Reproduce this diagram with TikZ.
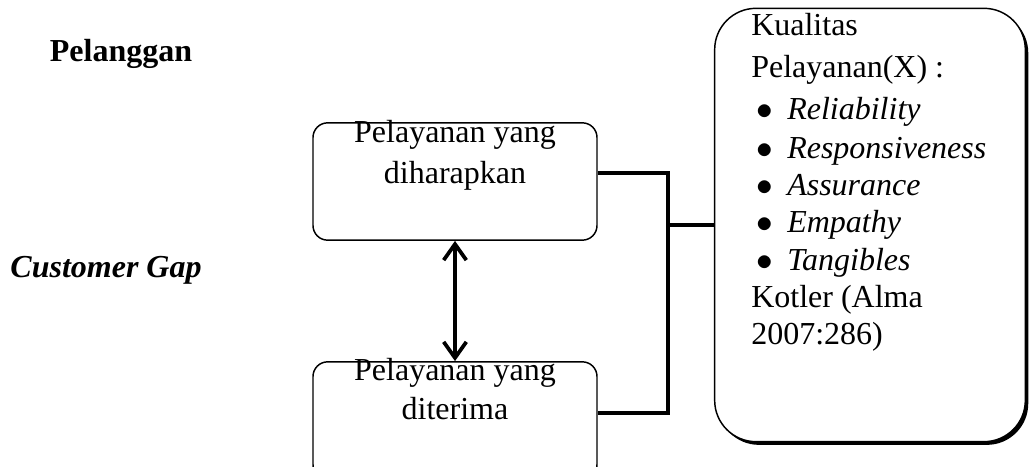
\documentclass[tikz,border=0pt]{standalone}
\usepackage{fontspec}
\setmainfont{Liberation Serif}
\usetikzlibrary{arrows.meta, positioning, shadows}
\definecolor{mainBlack}{gray}{0.0}

\newcommand{\butir}[1]{\makebox[27pt][l]{\hspace{4pt}$\bullet$}\textit{#1}}

\begin{document}
\begin{tikzpicture}[x=0.75pt, y=-0.75pt, >={Straight Barb[length=12pt, width=17pt]}]
    \tikzset{
        kotak/.style={draw=mainBlack, rounded corners=11pt, line width=1.1pt, minimum width=213pt, minimum height=88pt, inner sep=0pt},
        kotakBesar/.style={draw=mainBlack, fill=white, rounded corners=31pt, line width=1.1pt, minimum width=233pt, minimum height=325pt, inner sep=0pt,
            drop shadow={shadow xshift=2.2pt, shadow yshift=-2.4pt, opacity=1, fill=mainBlack}},
        teks/.style={font=\fontsize{24}{31}\selectfont, align=center, inner sep=0pt},
        judul/.style={font=\fontsize{24}{30}\selectfont\bfseries, inner sep=0pt, anchor=base},
        konektor/.style={mainBlack, line width=3pt},
        panah/.style={<->, mainBlack, line width=2.8pt}
    }
    \useasboundingbox (0,0) rectangle (1031,467);
    \clip (0,0) rectangle (1031,467);

    % judul di kiri
    \node[judul] (pelanggan) at (121,62) {Pelanggan};
    \node[judul, font=\fontsize{24}{30}\selectfont\bfseries\itshape] (gap) at (106,277) {Customer Gap};

    % kotak pelayanan
    \node[kotak] (harap) at (455,181.5) {};
    \node[kotak] (terima) at (455,420.5) {};
    \node[teks, anchor=north] (harapTeks) at ([yshift=1.5pt]harap.north) {Pelayanan yang\\diharapkan};
    \node[teks, anchor=north, font=\fontsize{24}{29.5}\selectfont] (terimaTeks) at ([yshift=2.2pt]terima.north) {Pelayanan yang\\diterima};

    % kotak kualitas pelayanan
    \node[kotakBesar] (kualitas) at (870,225) {};
    \node[teks, align=left, anchor=north west, font=\fontsize{24}{28}\selectfont] (dimensi) at (751,13.5)
        {Kualitas\\[3pt]
         Pelayanan(X) :\\[3.5pt]
         \butir{Reliability}\\[1.2pt]
         \butir{Responsiveness}\\
         \butir{Assurance}\\
         \butir{Empathy}\\
         \butir{Tangibles}\\
         Kotler (Alma\\
         2007:286)};

    % penghubung
    \coordinate (cabang) at (668,225);
    \draw[konektor] ([yshift=6.4pt]harap.east) -| (cabang) |- ([yshift=5.6pt]terima.east);
    \draw[konektor] (cabang) -- (kualitas.west);
    \draw[panah] (harap.south) -- (terima.north);
\end{tikzpicture}
\end{document}
